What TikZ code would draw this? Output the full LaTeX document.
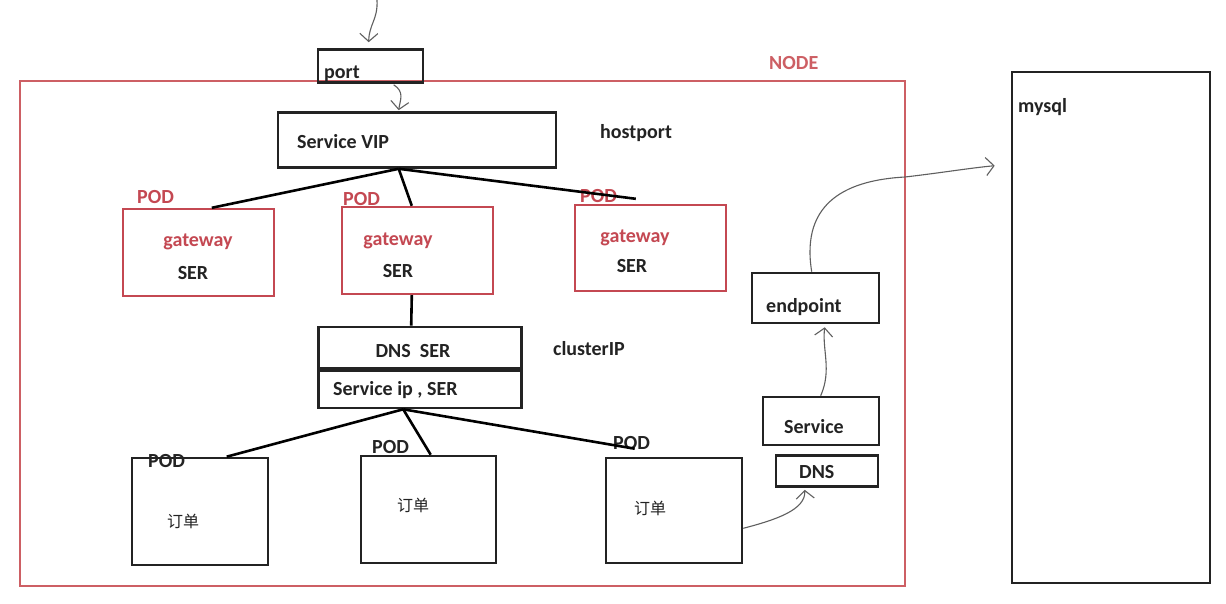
\documentclass[tikz,border=0pt]{standalone}
\usepackage{fontspec}
\setmainfont{Carlito}
\newfontfamily\cjk{Noto Sans CJK SC}
\usetikzlibrary{arrows.meta,calc}
\definecolor{podred}{RGB}{196,72,82}
\definecolor{framered}{RGB}{205,95,100}
\definecolor{ink}{RGB}{35,35,35}
\definecolor{pen}{RGB}{95,95,95}
\begin{document}
\begin{tikzpicture}[x=1pt,y=-1pt,
 box/.style={draw=ink,line width=2.6pt,rectangle,inner sep=0pt},
 redbox/.style={draw=podred,line width=2.4pt,rectangle,inner sep=0pt},
 lbl/.style={font=\fontsize{20}{22}\selectfont\bfseries,text=ink,inner sep=0pt},
 rlbl/.style={lbl,text=podred},
 cn/.style={font=\cjk\fontsize{16}{18}\selectfont,text=ink,inner sep=0pt},
 link/.style={draw=black,line width=2.6pt},
 pencil/.style={draw=pen,line width=1.1pt,-{Straight Barb[length=8pt,width=18pt]}},
]
\useasboundingbox[fill=white] (0,0) rectangle (1226,604);

% NODE frame and mysql
\node[draw=framered,line width=2.8pt,rectangle,inner sep=0pt,minimum width=885,minimum height=505] (frame) at (462.5,333.5) {};
\node[lbl,text=framered,anchor=base west] (tnode) at (769,70) {NODE};
\node[box,minimum width=198,minimum height=511] (mysql) at (1111,327.5) {};
\node[lbl,anchor=base west] (tmysql) at (1018,113) {mysql};

% port and Service VIP
\node[box,minimum width=105,minimum height=33] (port) at (370.5,66) {};
\node[lbl,anchor=base west] (tport) at (324,79) {port};
\node[box,minimum width=278,minimum height=55] (vip) at (417,140) {};
\node[lbl,anchor=base west] (tvip) at (297,149) {Service VIP};
\node[lbl,anchor=base west] (thost) at (600,139) {hostport};

% gateway PODs
\node[redbox,minimum width=151,minimum height=87] (pod1) at (198.5,252.5) {};
\node[redbox,minimum width=151,minimum height=87] (pod2) at (417.5,250.5) {};
\node[redbox,minimum width=151,minimum height=86] (pod3) at (650.5,248) {};
\node[rlbl,anchor=base west] (tp1) at (137,204) {POD};
\node[rlbl,anchor=base west] (tp2) at (343,206) {POD};
\node[rlbl,anchor=base west] (tp3) at (580,203) {POD};
\node[rlbl,anchor=base] (g1) at (198,247) {gateway};
\node[rlbl,anchor=base] (g2) at (398,245) {gateway};
\node[rlbl,anchor=base] (g3) at (635,243) {gateway};
\node[lbl,anchor=base] (s1) at (193,279) {SER};
\node[lbl,anchor=base] (s2) at (398,277) {SER};
\node[lbl,anchor=base] (s3) at (632,272) {SER};

% DNS / Service ip
\node[box,minimum width=203,minimum height=41] (dns) at (420,347.5) {};
\node[box,minimum width=203,minimum height=40] (svcip) at (420,388) {};
\draw[draw=ink,line width=5pt] (dns.south west) -- (dns.south east);
\node[lbl,anchor=base] (tdns) at (413,357) {DNS\ \ SER};
\node[lbl,anchor=base west] (tsvcip) at (333,395) {Service ip , SER};
\node[lbl,anchor=base west] (tcluster) at (553,355) {clusterIP};

% order PODs
\node[box,minimum width=136,minimum height=107] (ord1) at (200,511.5) {};
\node[box,minimum width=135,minimum height=107] (ord2) at (428.5,509.5) {};
\node[box,minimum width=136,minimum height=105] (ord3) at (674,510.5) {};
\node[lbl,anchor=base west] (tq1) at (148,467) {POD};
\node[lbl,anchor=base west] (tq2) at (372,453) {POD};
\node[lbl,anchor=base west] (tq3) at (613,449) {POD};
\node[cn] (c1) at (183,521) {订单};
\node[cn] (c2) at (413,505) {订单};
\node[cn] (c3) at (650,508) {订单};

% Service / DNS / endpoint
\node[box,minimum width=116,minimum height=48] (svc) at (821,421) {};
\node[lbl,anchor=base west] (tsvc) at (784,433) {Service};
\node[box,minimum width=102,minimum height=31] (dnsb) at (827,471) {};
\node[lbl,anchor=base west] (tdnsb) at (799,478) {DNS};
\node[box,minimum width=127,minimum height=50] (endp) at (815.5,298) {};
\node[lbl,anchor=base west] (tendp) at (766,312) {endpoint};

% connectors: black lines
\coordinate (vipb) at ($(vip.south west)+(122,0)$);
\draw[link] (vipb) -- ($(pod1.north west)+(90,0)$);
\draw[link] (vipb) -- ($(pod2.north west)+(71,0)$);
\draw[link] (vipb) -- ($(pod3.north west)+(62,-5)$);
\draw[link] ($(pod2.south west)+(71,0)$) -- ($(dns.north west)+(94,0)$);
\coordinate (svcb) at ($(svcip.south west)+(86,0)$);
\draw[link] (svcb) -- ($(ord1.north west)+(96,0)$);
\draw[link] (svcb) -- ($(ord2.north west)+(71,0)$);
\draw[link] (svcb) -- ($(ord3.north west)+(30,-8)$);

% hand-drawn arrows
\coordinate (topin) at (377,0);
\draw[pencil] (topin) .. controls (378,20) and (369,24) .. ($(port.north west)+(52,-6)$);
\draw[pencil] ($(port.south west)+(77,1)$) .. controls (405,92) and (400,100) .. ($(vip.north west)+(122,-1)$);
\draw[pencil] ($(ord3.south east)+(0,-36)$) .. controls (775,520) and (806,510) .. ($(dnsb.south west)+(30,2)$);
\draw[pencil] ($(svc.north west)+(59,0)$) .. controls (832,370) and (822,350) .. ($(endp.south west)+(74,3)$);
\draw[pencil] ($(endp.north west)+(61,0)$) .. controls (800,200) and (850,180) .. (905,177) .. controls (940,173) and (970,168) .. ($(mysql.north west)+(-16,95)$);
\end{tikzpicture}
\end{document}
